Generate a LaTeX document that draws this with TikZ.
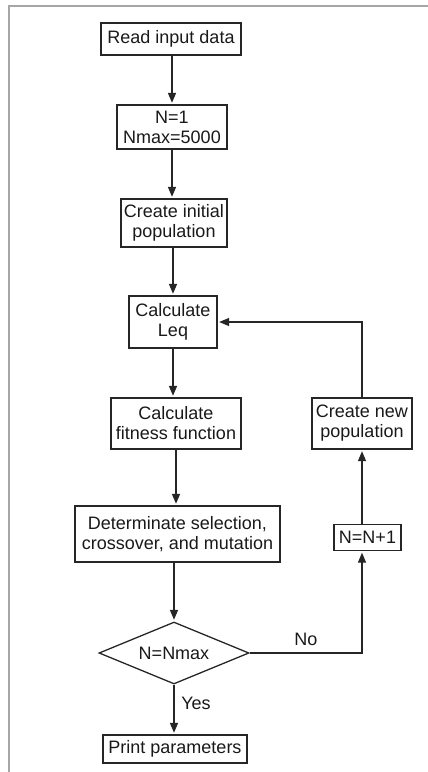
\documentclass[tikz,border=0pt]{standalone}
\usepackage{fontspec}
\setmainfont{Liberation Sans}
\usetikzlibrary{shapes.geometric,arrows.meta}

\begin{document}
\begin{tikzpicture}[x=1pt,y=-1pt,
  every node/.style={font=\fontsize{18}{20}\selectfont, text=black!90, align=center, inner sep=0pt},
  procbox/.style={draw=black!85, line width=1.3pt, rectangle},
  decision/.style={draw=black!85, line width=1.3pt, diamond, aspect=2.4},
  flow/.style={draw=black!85, line width=1.6pt, -{Triangle[width=8pt,length=10pt]}, shorten >=1.5pt},
  loopflow/.style={draw=black!85, line width=1.3pt, -{Triangle[width=8pt,length=10pt]}, shorten >=1.5pt},
  framerule/.style={draw=black!35, line width=2pt}]

  % page extent and gray frame (top and left edges)
  \useasboundingbox (0,0) rectangle (428,772);
  \coordinate (frameTL) at (9,5.5);
  \coordinate (frameTR) at (428,5.5);
  \coordinate (frameBL) at (9,772);
  \draw[framerule] (frameTR) -- (frameTL) -- (frameBL);

  % process steps
  \node[procbox, minimum width=140pt, minimum height=32pt] (read) at (171,39) {Read input data};
  \node[procbox, minimum width=110pt, minimum height=44pt] (init) at (172,127) {N=1\\ Nmax=5000};
  \node[procbox, minimum width=106pt, minimum height=48pt] (create) at (174,223) {Create initial\\ population};
  \node[procbox, minimum width=88pt, minimum height=52pt] (leq) at (173,322) {Calculate\\ Leq};
  \node[procbox, minimum width=130pt, minimum height=51pt] (fit) at (176,423.5) {Calculate\\ fitness function};
  \node[procbox, minimum width=100pt, minimum height=51pt] (newpop) at (362,423.5) {Create new\\ population};
  \node[procbox, minimum width=205pt, minimum height=56pt] (det) at (177.5,534) {Determinate selection,\\ crossover, and mutation};
  \node[procbox, minimum width=67pt, minimum height=26pt] (inc) at (367.5,537.5) {N=N+1};
  \node[decision, minimum width=150pt, minimum height=62pt] (dec) at (174,653) {N=Nmax};
  \node[procbox, minimum width=144pt, minimum height=28pt] (print) at (175,749) {Print parameters};

  % main flow
  \draw[flow] (read.south -| init.north) -- (init.north);
  \draw[flow] (init.south) -- (init.south |- create.north);
  \draw[flow] (create.south -| leq.north) -- (leq.north);
  \draw[flow] (leq.south) -- (leq.south |- fit.north);
  \draw[flow] (fit.south) -- (fit.south |- det.north);
  \draw[flow] (det.south -| dec.north) -- (dec.north);
  \draw[flow] (dec.south) -- (dec.south |- print.north);

  % loop back when N < Nmax
  \draw[loopflow] (dec.east) -| (inc.south -| newpop.south);
  \draw[loopflow] (inc.north -| newpop.south) -- (newpop.south);
  \draw[loopflow] (newpop.north) |- (leq.east);

  % branch labels
  \node (nolabel) at (306,639) {No};
  \node (yeslabel) at (196,703) {Yes};
\end{tikzpicture}
\end{document}
